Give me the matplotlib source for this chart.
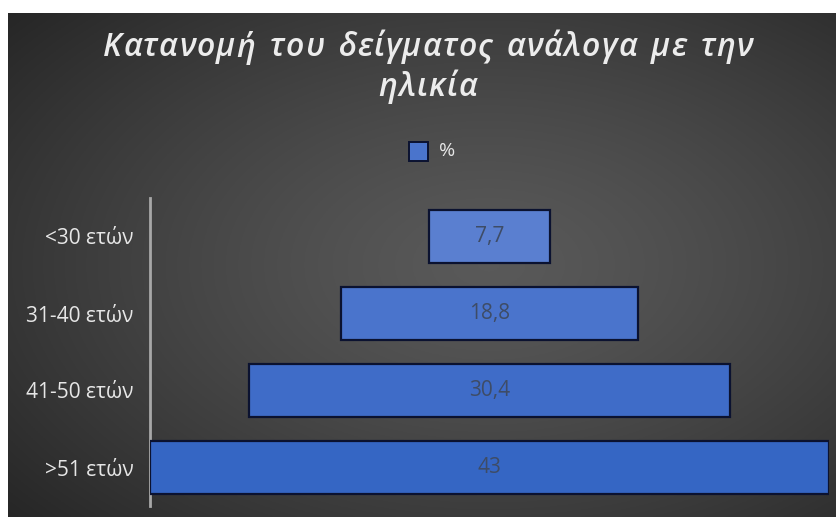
import numpy as np
import matplotlib
matplotlib.use("Agg")
import matplotlib.pyplot as plt
from matplotlib.patches import Rectangle

categories = ["<30 ετών", "31-40 ετών", "41-50 ετών", ">51 ετών"]
values = [7.7, 18.8, 30.4, 43]
value_labels = ["7,7", "18,8", "30,4", "43"]
series_name = "%"
title_lines = ["Κατανομή του δείγματος ανάλογα με την", "ηλικία"]

# the gradient fill of the original makes the upper bars look a bit lighter
bar_colors = ["#5a7fd0", "#4a74cc", "#3f6cc8", "#3566c4"]

plt.rcParams["font.family"] = ["Open Sans", "DejaVu Sans"]

W, H = 837, 517
fig = plt.figure(figsize=(W / 100, H / 100), dpi=100)
fig.patch.set_facecolor("white")


def fx(px):
    return px / W


def fy(py):
    return 1 - py / H


# dark radial gradient background (chart area starts a bit in from the top-left)
bg = fig.add_axes([fx(8), 0, 1 - fx(8), fy(13)])
bg.set_axis_off()
yy, xx = np.mgrid[0:1:300j, 0:1:500j]
r = np.sqrt(((xx - 0.58) / 0.75) ** 2 + ((yy - 0.5) / 0.75) ** 2)
r = np.clip(r / r.max(), 0, 1)
shade = 0.35 - 0.2 * r ** 1.3
bg.imshow(np.dstack([shade] * 3), aspect="auto", extent=[0, 1, 0, 1])
bg.set_xlim(0, 1)
bg.set_ylim(0, 1)

# funnel axes
ax = fig.add_axes([fx(150), fy(506), fx(829) - fx(150), fy(198) - fy(506)])
ax.patch.set_alpha(0)
half = max(values) / 2
y = np.arange(len(categories))
ax.barh(y, values, left=[-v / 2 for v in values], height=0.68,
        color=bar_colors, edgecolor="#0b1230", linewidth=1.6, zorder=3,
        label=series_name)
for yi, v, lab in zip(y, values, value_labels):
    ax.text(0, yi, lab, ha="center", va="center", fontsize=15,
            color="#3e4c66", zorder=4)
ax.set_xlim(-half, half)
ax.set_ylim(len(categories) - 0.5, -0.5)
ax.set_yticks(y, categories)
ax.set_xticks([])
ax.tick_params(axis="y", length=0, pad=12, labelsize=15, labelcolor="#e6e6e6")
for s in ["top", "right", "bottom"]:
    ax.spines[s].set_visible(False)
ax.spines["left"].set_color("#a8a8a8")
ax.spines["left"].set_linewidth(2)

# legend
fig.patches.append(Rectangle((fx(409), fy(161)), fx(19), fy(142) - fy(161),
                             transform=fig.transFigure, facecolor=bar_colors[1],
                             edgecolor="#0b1230", linewidth=1.4))
fig.text(fx(439), fy(151), series_name, ha="left", va="center",
         fontsize=14, color="#e6e6e6")


# title with wide letter spacing, drawn char by char
def spaced_text(s, cx, cy, tracking, **kw):
    renderer = fig.canvas.get_renderer()
    widths = []
    for ch in s:
        t = fig.text(0, 0, ch if ch != " " else "n", **kw)
        widths.append(t.get_window_extent(renderer).width * (0.6 if ch == " " else 1))
        t.remove()
    total = sum(widths) + tracking * (len(s) - 1)
    x = cx - total / 2
    for ch, w in zip(s, widths):
        if ch != " ":
            fig.text(x / W, 1 - cy / H, ch, ha="left", va="center", **kw)
        x += w + tracking


title_kw = dict(fontsize=23, fontstyle="italic", fontweight="semibold", color="#ececec")
spaced_text(title_lines[0], 428, 48, 1.2, **title_kw)
spaced_text(title_lines[1], 428, 88, 1.2, **title_kw)

fig.savefig("out.png", dpi=100)
